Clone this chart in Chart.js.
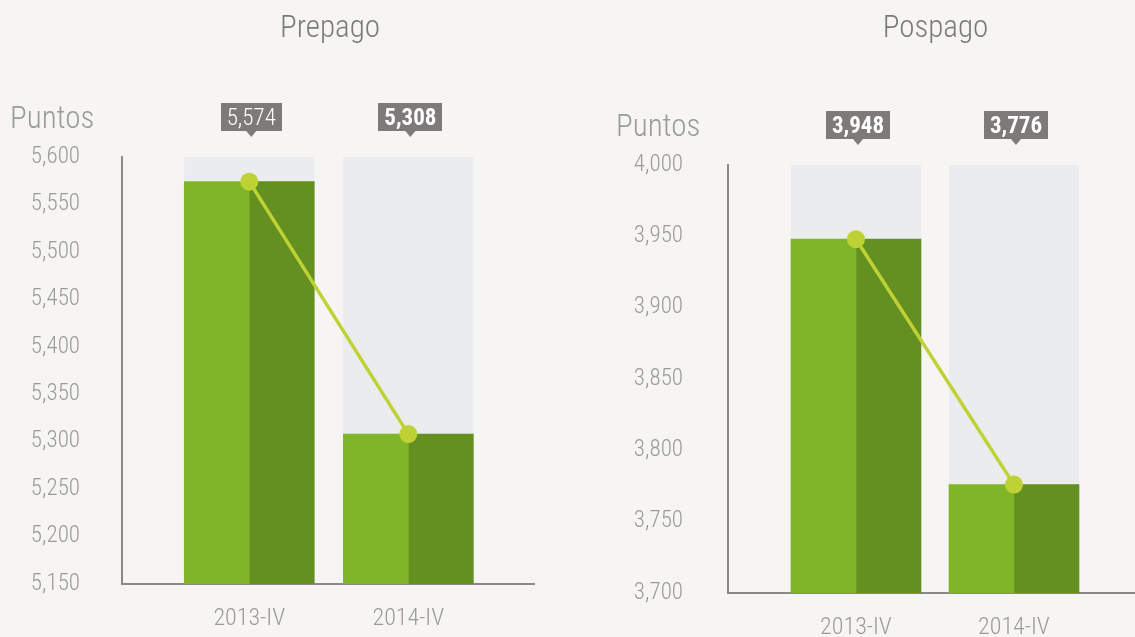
<!DOCTYPE html>
<html>
<head>
<meta charset="utf-8">
<script src="https://cdn.jsdelivr.net/npm/chart.js@4.4.1/dist/chart.umd.min.js"></script>
<style>
  html, body { margin: 0; padding: 0; background: #f6f5f3; }
  body { width: 1135px; height: 637px; position: relative; overflow: hidden; }
  canvas { position: absolute; top: 0; }
  #prepago { left: 0; }
  #pospago { left: 567px; }
</style>
</head>
<body>
<canvas id="prepago" width="567" height="637"></canvas>
<canvas id="pospago" width="568" height="637"></canvas>
<script>
const periods = ['2013-IV', '2014-IV'];

const prepagoPuntos = [5574, 5308];
const prepagoTrack = [5600, 5600];
const prepagoTicks = [5150, 5200, 5250, 5300, 5350, 5400, 5450, 5500, 5550, 5600];

const pospagoPuntos = [3948, 3776];
const pospagoTrack = [4000, 4000];
const pospagoTicks = [3700, 3750, 3800, 3850, 3900, 3950, 4000];

const FONT = "'Roboto Condensed', 'DejaVu Sans Condensed', sans-serif";
const fmt = (v) => v.toLocaleString('en-US');
const pts = (arr) => arr.map((y, i) => ({ x: i, y: y }));

// titles, "Puntos" caption and the value tags above each bar
const extras = {
    id: 'extras',
    afterDraw(chart, args, opts) {
        const { ctx, chartArea } = chart;
        ctx.save();
        ctx.textBaseline = 'alphabetic';

        ctx.fillStyle = '#7a7a7a';
        ctx.font = '300 31px ' + FONT;
        ctx.textAlign = 'center';
        ctx.fillText(opts.title, (chartArea.left + chartArea.right) / 2 + opts.titleShift, 37);

        ctx.fillStyle = '#9a9a9a';
        ctx.font = '300 31px ' + FONT;
        ctx.textAlign = 'left';
        ctx.fillText('Puntos', chartArea.left - 112, chartArea.top - 29);

        const meta = chart.getDatasetMeta(0);
        const values = opts.values;
        meta.data.forEach((pt, i) => {
            const cx = pt.x + 2;
            const text = fmt(values[i]);
            ctx.font = opts.weights[i] + ' 23px ' + FONT;
            const w = ctx.measureText(text).width + 12;
            const h = 28;
            const top = chartArea.top - 54;
            ctx.fillStyle = '#7f7a7a';
            ctx.fillRect(Math.round(cx - w / 2), top, Math.round(w), h);
            ctx.beginPath();
            ctx.moveTo(cx - 5, top + h);
            ctx.lineTo(cx + 5, top + h);
            ctx.lineTo(cx, top + h + 6);
            ctx.closePath();
            ctx.fill();
            ctx.fillStyle = '#ffffff';
            ctx.textAlign = 'center';
            ctx.fillText(text, cx, top + 22);
        });
        ctx.restore();
    }
};

// fixed axis sizes, without the label overhang Chart.js reserves at the ends
function fixSize(prop, size) {
    return (scale) => {
        scale[prop] = size;
        scale.paddingLeft = 0;
        scale.paddingRight = 0;
        scale.paddingTop = 0;
        scale.paddingBottom = 0;
    };
}

function makeChart(id, cfg) {
    const tickFont = { family: FONT, size: 23, weight: 300 };
    return new Chart(document.getElementById(id), {
        type: 'bar',
        data: {
            datasets: [
                {
                    type: 'line',
                    data: pts(cfg.values),
                    borderColor: '#bfd235',
                    borderWidth: 3.5,
                    pointRadius: 9,
                    pointHoverRadius: 9,
                    pointBackgroundColor: '#bfd235',
                    pointBorderWidth: 0,
                    clip: false,
                    order: 0,
                },
                { data: pts(cfg.values), backgroundColor: '#80b52a', barThickness: 65, order: 1 },
                { data: pts(cfg.values), backgroundColor: '#648f21', barThickness: 65, order: 1 },
                {
                    data: pts(cfg.track),
                    backgroundColor: '#ebecee',
                    grouped: false,
                    barPercentage: cfg.trackRatio,
                    categoryPercentage: 1,
                    order: 2,
                },
            ],
        },
        options: {
            responsive: false,
            animation: false,
            events: [],
            layout: { padding: cfg.padding, autoPadding: false },
            plugins: {
                legend: { display: false },
                tooltip: { enabled: false },
                extras: {
                    title: cfg.title,
                    titleShift: cfg.titleShift,
                    values: cfg.values,
                    weights: cfg.weights,
                },
            },
            scales: {
                x: {
                    type: 'linear',
                    offset: false,
                    min: cfg.xMin,
                    max: cfg.xMax,
                    grid: { display: false, drawTicks: false },
                    border: { display: true, color: '#8a8888', width: 2 },
                    afterBuildTicks: (scale) => {
                        scale.ticks = periods.map((p, i) => ({ value: i }));
                    },
                    afterFit: fixSize('height', cfg.xHeight),
                    ticks: {
                        autoSkip: false,
                        maxRotation: 0,
                        padding: 21,
                        color: '#9a9a9a',
                        font: { family: FONT, size: 24, weight: 300 },
                        callback: (v) => periods[v],
                    },
                },
                y: {
                    min: cfg.ticks[0],
                    max: cfg.ticks[cfg.ticks.length - 1],
                    beginAtZero: false,
                    grid: { display: false, drawTicks: false },
                    border: { display: true, color: '#8a8888', width: 2 },
                    afterBuildTicks: (scale) => {
                        scale.ticks = cfg.ticks.map((v) => ({ value: v }));
                    },
                    afterFit: fixSize('width', cfg.yWidth),
                    ticks: {
                        padding: cfg.yPad,
                        color: '#9a9a9a',
                        font: tickFont,
                        callback: (v) => fmt(v),
                    },
                },
            },
        },
        plugins: [extras],
    });
}

makeChart('prepago', {
    title: 'Prepago',
    titleShift: 2,
    values: prepagoPuntos,
    track: prepagoTrack,
    ticks: prepagoTicks,
    weights: ['300', 'bold'],
    padding: { top: 157, right: 33, left: 0, bottom: 0 },
    yWidth: 122,
    yPad: 42,
    xHeight: 53,
    xMin: -0.8,
    xMax: 1.79,
    trackRatio: 0.818,
});

makeChart('pospago', {
    title: 'Pospago',
    titleShift: 4,
    values: pospagoPuntos,
    track: pospagoTrack,
    ticks: pospagoTicks,
    weights: ['bold', 'bold'],
    padding: { top: 165, right: 0, left: 0, bottom: 0 },
    yWidth: 161,
    yPad: 45,
    xHeight: 44,
    xMin: -0.81,
    xMax: 1.766,
    trackRatio: 0.823,
});
</script>
</body>
</html>
